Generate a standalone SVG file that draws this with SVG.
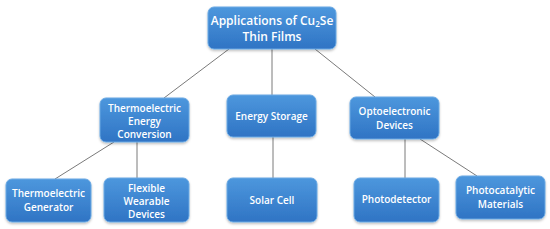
<svg xmlns="http://www.w3.org/2000/svg" width="550" height="229" viewBox="0 0 550 229">
<defs>
<linearGradient id="g" x1="0" y1="0" x2="0" y2="1">
<stop offset="0" stop-color="#4d97dd"/>
<stop offset="1" stop-color="#2f74c4"/>
</linearGradient>
<filter id="sh" x="-10%" y="-10%" width="120%" height="130%">
<feDropShadow dx="0" dy="1.5" stdDeviation="1.2" flood-color="#000" flood-opacity="0.25"/>
</filter>
</defs>
<style>
.box{fill:url(#g);stroke:#6aa9e4;stroke-width:1;filter:url(#sh)}
.t{font-family:"Open Sans","Liberation Sans",sans-serif;font-weight:600;fill:#fff;text-anchor:middle;font-size:10px}
.big{font-size:12px}
.c{stroke:#7a7a7a;stroke-width:1;fill:none}
</style>
<rect width="550" height="229" fill="#fff"/>
<g id="connectors">
<line class="c" x1="229" y1="49" x2="164" y2="98"/>
<line class="c" x1="272" y1="49" x2="272" y2="95"/>
<line class="c" x1="315" y1="49" x2="375" y2="97"/>
<line class="c" x1="114" y1="142" x2="55" y2="179"/>
<line class="c" x1="137" y1="142" x2="137" y2="178"/>
<line class="c" x1="273" y1="137" x2="273" y2="178"/>
<line class="c" x1="405" y1="139" x2="405" y2="178"/>
<line class="c" x1="420" y1="139" x2="477" y2="176"/>
</g>
<g id="root">
<rect class="box" x="208" y="7" width="128" height="42" rx="6"/>
<text class="t big" x="272" y="25">Applications of Cu<tspan font-size="8" dy="2">2</tspan><tspan dy="-2">Se</tspan></text>
<text class="t big" x="272" y="41">Thin Films</text>
</g>
<g id="tec">
<rect class="box" x="100" y="98" width="89" height="44" rx="6"/>
<text class="t" x="144.5" y="112">Thermoelectric</text>
<text class="t" x="144.5" y="125">Energy</text>
<text class="t" x="144.5" y="138">Conversion</text>
</g>
<g id="storage">
<rect class="box" x="227" y="95" width="89" height="42" rx="6"/>
<text class="t" x="271.5" y="120">Energy Storage</text>
</g>
<g id="opto">
<rect class="box" x="350" y="97" width="89" height="42" rx="6"/>
<text class="t" x="394.5" y="115">Optoelectronic</text>
<text class="t" x="394.5" y="129">Devices</text>
</g>
<g id="teg">
<rect class="box" x="6" y="179" width="85" height="43" rx="6"/>
<text class="t" x="48.5" y="197">Thermoelectric</text>
<text class="t" x="48.5" y="211">Generator</text>
</g>
<g id="flex">
<rect class="box" x="104" y="178" width="85" height="44" rx="6"/>
<text class="t" x="146.5" y="192">Flexible</text>
<text class="t" x="146.5" y="205">Wearable</text>
<text class="t" x="146.5" y="218">Devices</text>
</g>
<g id="solar">
<rect class="box" x="227" y="178" width="90" height="44" rx="6"/>
<text class="t" x="272" y="204">Solar Cell</text>
</g>
<g id="photodet">
<rect class="box" x="354" y="178" width="85" height="44" rx="6"/>
<text class="t" x="396.5" y="203">Photodetector</text>
</g>
<g id="photocat">
<rect class="box" x="456" y="176" width="89" height="43" rx="6"/>
<text class="t" x="500.5" y="194">Photocatalytic</text>
<text class="t" x="500.5" y="208">Materials</text>
</g>
</svg>
